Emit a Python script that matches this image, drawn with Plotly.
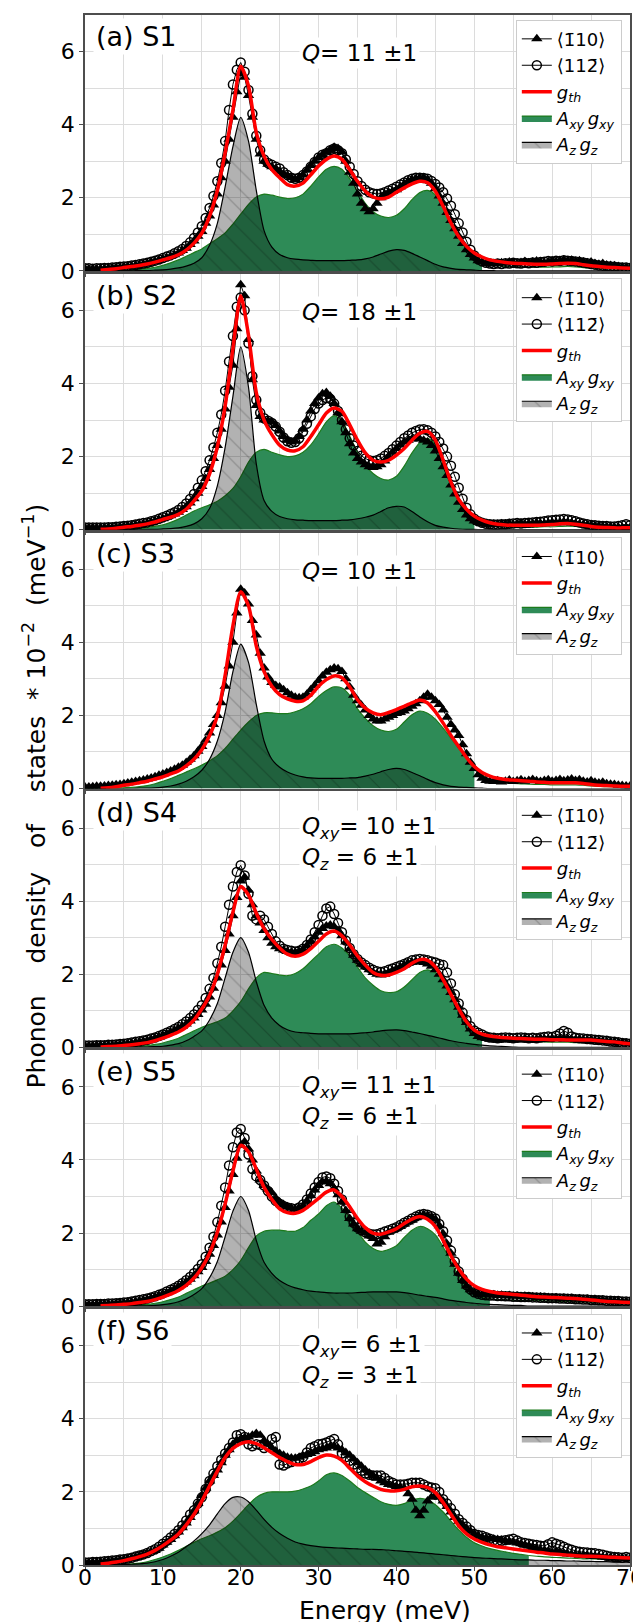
import plotly.graph_objects as go
from plotly.subplots import make_subplots

# ---------------- sampling grids (meV) ----------------
E_CURVE = list(range(0, 71))             # model curves, 1 meV
E_DATA = [k * 0.5 for k in range(141)]   # measured points, 0.5 meV

X_TICKS = [0, 10, 20, 30, 40, 50, 60, 70]
X_MINOR = [5, 15, 25, 35, 45, 55, 65]
Y_TICKS = [0, 2, 4, 6]
Y_MINOR = [1, 3, 5]

PANEL_LABELS = ["(a) S1", "(b) S2", "(c) S3", "(d) S4", "(e) S5", "(f) S6"]
Q_TEXT = [
    ["<i>Q</i>= 11 ±1"],
    ["<i>Q</i>= 18 ±1"],
    ["<i>Q</i>= 10 ±1"],
    ["<i>Q</i><sub><i>xy</i></sub>= 10 ±1", "<i>Q</i><sub><i>z</i></sub> = 6 ±1"],
    ["<i>Q</i><sub><i>xy</i></sub>= 11 ±1", "<i>Q</i><sub><i>z</i></sub> = 6 ±1"],
    ["<i>Q</i><sub><i>xy</i></sub>= 6 ±1", "<i>Q</i><sub><i>z</i></sub> = 3 ±1"],
]
GREEN_FILL_END = [51, 50, 50, 51, 52, 57]   # meV where the green fill stops

NAME_TRI = "⟨1\u030410⟩"
NAME_CIRC = "⟨112\u0304⟩"
NAME_TH = "<i>g</i><sub><i>th</i></sub>"
NAME_XY = "<i>A</i><sub><i>xy</i></sub>\u2009<i>g</i><sub><i>xy</i></sub>"
NAME_Z = "<i>A</i><sub><i>z</i></sub>\u2009<i>g</i><sub><i>z</i></sub>"

# ---------------- panel (a) S1 ----------------
RED_A = [None, None, 0.02, 0.04, 0.06, 0.09, 0.12, 0.15, 0.19, 0.24,
         0.30, 0.36, 0.44, 0.57, 0.76, 1.03, 1.50, 2.20, 3.23, 4.40,
         5.60, 5.06, 3.78, 3.14, 2.77, 2.55, 2.36, 2.32, 2.40, 2.63,
         2.87, 3.05, 3.14, 3.05, 2.77, 2.45, 2.18, 2.02, 1.97, 2.02,
         2.15, 2.27, 2.38, 2.45, 2.41, 2.18, 1.77, 1.31, 0.94, 0.67,
         0.49, 0.38, 0.30, 0.26, 0.23, 0.21, 0.20, 0.19, 0.18, 0.18,
         0.19, 0.20, 0.21, 0.20, 0.17, 0.14, 0.12, 0.10, 0.09, 0.08,
         0.07]
GREEN_A = [0.00, 0.00, 0.00, 0.01, 0.01, 0.02, 0.03, 0.05, 0.07, 0.10,
           0.15, 0.22, 0.30, 0.40, 0.50, 0.60, 0.74, 0.88, 1.04, 1.28,
           1.55, 1.82, 2.02, 2.10, 2.07, 2.02, 1.98, 2.00, 2.10, 2.32,
           2.57, 2.78, 2.86, 2.78, 2.52, 2.18, 1.85, 1.62, 1.50, 1.46,
           1.52, 1.70, 1.95, 2.14, 2.20, 2.08, 1.74, 1.30, 0.93, 0.64,
           0.42, 0.28, 0.20, 0.15, 0.12, 0.11, 0.10, 0.10, 0.10, 0.10,
           0.11, 0.11, 0.12, 0.11, 0.09, 0.08, 0.07, 0.06, 0.05, 0.05,
           0.04]
GRAY_A = [0.00, 0.00, 0.00, 0.00, 0.00, 0.00, 0.00, 0.01, 0.01, 0.02,
          0.03, 0.05, 0.08, 0.13, 0.21, 0.36, 0.70, 1.30, 2.30, 3.40,
          4.20, 3.55, 2.20, 1.10, 0.65, 0.45, 0.36, 0.32, 0.30, 0.29,
          0.28, 0.28, 0.28, 0.28, 0.29, 0.30, 0.33, 0.38, 0.46, 0.54,
          0.58, 0.56, 0.48, 0.38, 0.28, 0.18, 0.11, 0.07, 0.04, 0.03,
          0.02, 0.01, 0.01, 0.00, 0.00, 0.00, 0.00, 0.00, 0.00, 0.00,
          0.00, 0.00, 0.00, 0.00, 0.00, 0.00, 0.00, 0.00, 0.00, 0.00,
          0.00]
TRI_A = [0.06, 0.05, 0.06, 0.05, 0.06, 0.06, 0.07, 0.08, 0.09, 0.09,
         0.11, 0.12, 0.13, 0.15, 0.17, 0.19, 0.21, 0.24, 0.26, 0.29,
         0.33, 0.36, 0.40, 0.44, 0.49, 0.56, 0.62, 0.72, 0.82, 0.95,
         1.08, 1.30, 1.50, 1.80, 2.10, 2.55, 3.00, 3.60, 4.20, 4.90,
         5.40, 5.30, 4.80, 4.20, 3.60, 3.20, 3.00, 2.92, 2.85, 2.80,
         2.72, 2.65, 2.60, 2.55, 2.50, 2.55, 2.62, 2.75, 2.88, 3.00,
         3.10, 3.18, 3.25, 3.32, 3.38, 3.35, 3.25, 3.00, 2.70, 2.40,
         2.10, 1.85, 1.70, 1.62, 1.70, 1.85, 2.00, 2.10, 2.15, 2.18,
         2.22, 2.30, 2.38, 2.45, 2.50, 2.52, 2.55, 2.55, 2.50, 2.40,
         2.25, 2.05, 1.85, 1.60, 1.38, 1.15, 0.95, 0.75, 0.58, 0.45,
         0.35, 0.28, 0.24, 0.21, 0.20, 0.19, 0.20, 0.22, 0.21, 0.24,
         0.22, 0.20, 0.23, 0.26, 0.22, 0.24, 0.27, 0.25, 0.22, 0.25,
         0.28, 0.26, 0.28, 0.30, 0.27, 0.29, 0.26, 0.28, 0.24, 0.22,
         0.24, 0.20, 0.18, 0.20, 0.16, 0.15, 0.14, 0.12, 0.10, 0.09,
         0.08]
CIRC_A = [0.07, 0.07, 0.06, 0.07, 0.07, 0.08, 0.08, 0.09, 0.10, 0.11,
          0.12, 0.13, 0.15, 0.16, 0.18, 0.20, 0.22, 0.25, 0.28, 0.31,
          0.35, 0.39, 0.43, 0.48, 0.54, 0.60, 0.68, 0.78, 0.90, 1.05,
          1.22, 1.45, 1.72, 2.05, 2.45, 2.95, 3.55, 4.40, 5.10, 5.50,
          5.70, 5.45, 4.95, 4.30, 3.70, 3.30, 3.05, 2.95, 2.90, 2.85,
          2.80, 2.70, 2.62, 2.55, 2.52, 2.55, 2.62, 2.72, 2.85, 2.98,
          3.10, 3.18, 3.22, 3.30, 3.35, 3.30, 3.22, 3.05, 2.85, 2.65,
          2.45, 2.32, 2.22, 2.15, 2.12, 2.10, 2.12, 2.15, 2.20, 2.25,
          2.30, 2.36, 2.42, 2.48, 2.52, 2.55, 2.55, 2.54, 2.52, 2.46,
          2.38, 2.28, 2.15, 1.98, 1.78, 1.55, 1.30, 1.05, 0.80, 0.58,
          0.42, 0.32, 0.26, 0.22, 0.20, 0.19, 0.20, 0.19, 0.21, 0.20,
          0.22, 0.21, 0.20, 0.22, 0.21, 0.23, 0.22, 0.24, 0.25, 0.27,
          0.26, 0.28, 0.27, 0.29, 0.28, 0.27, 0.26, 0.24, 0.23, 0.21,
          0.19, 0.17, 0.15, 0.14, 0.13, 0.12, 0.11, 0.10, 0.09, 0.09,
          0.08]

# ---------------- panel (b) S2 ----------------
RED_B = [None, None, 0.01, 0.02, 0.04, 0.07, 0.09, 0.12, 0.16, 0.21,
         0.28, 0.34, 0.42, 0.56, 0.79, 1.06, 1.53, 2.27, 3.38, 4.95,
         6.40, 5.32, 3.75, 3.00, 2.60, 2.31, 2.18, 2.16, 2.27, 2.55,
         2.87, 3.19, 3.33, 3.24, 2.87, 2.45, 2.10, 1.90, 1.85, 1.90,
         2.04, 2.22, 2.45, 2.64, 2.69, 2.45, 1.90, 1.30, 0.83, 0.56,
         0.37, 0.26, 0.19, 0.15, 0.13, 0.12, 0.12, 0.12, 0.12, 0.13,
         0.14, 0.16, 0.17, 0.15, 0.12, 0.09, 0.07, 0.06, 0.05, 0.05,
         0.05]
GREEN_B = [0.00, 0.00, 0.00, 0.01, 0.01, 0.02, 0.03, 0.04, 0.06, 0.09,
           0.13, 0.20, 0.29, 0.40, 0.51, 0.60, 0.68, 0.78, 0.93, 1.13,
           1.45, 1.85, 2.12, 2.20, 2.12, 2.05, 2.00, 2.02, 2.12, 2.32,
           2.62, 2.95, 3.12, 2.98, 2.56, 2.12, 1.76, 1.54, 1.40, 1.36,
           1.46, 1.74, 2.10, 2.38, 2.50, 2.34, 1.84, 1.25, 0.80, 0.50,
           0.30, 0.18, 0.12, 0.09, 0.08, 0.07, 0.07, 0.07, 0.07, 0.08,
           0.08, 0.09, 0.10, 0.09, 0.07, 0.06, 0.05, 0.04, 0.04, 0.03,
           0.03]
GRAY_B = [0.00, 0.00, 0.00, 0.00, 0.00, 0.00, 0.00, 0.00, 0.01, 0.01,
          0.02, 0.03, 0.05, 0.09, 0.16, 0.30, 0.58, 1.20, 2.25, 3.65,
          5.00, 3.90, 1.80, 0.80, 0.50, 0.36, 0.30, 0.27, 0.26, 0.25,
          0.25, 0.25, 0.25, 0.26, 0.27, 0.30, 0.34, 0.40, 0.50, 0.60,
          0.64, 0.62, 0.50, 0.35, 0.22, 0.12, 0.07, 0.04, 0.02, 0.01,
          0.01, 0.00, 0.00, 0.00, 0.00, 0.00, 0.00, 0.00, 0.00, 0.00,
          0.00, 0.00, 0.00, 0.00, 0.00, 0.00, 0.00, 0.00, 0.00, 0.00,
          0.00]
TRI_B = [0.05, 0.05, 0.05, 0.05, 0.05, 0.05, 0.06, 0.06, 0.07, 0.08,
         0.09, 0.10, 0.11, 0.13, 0.14, 0.16, 0.18, 0.21, 0.24, 0.27,
         0.30, 0.34, 0.38, 0.43, 0.48, 0.55, 0.63, 0.73, 0.85, 1.00,
         1.18, 1.40, 1.65, 1.95, 2.30, 2.75, 3.30, 3.90, 4.50, 5.50,
         6.70, 6.40, 5.20, 4.10, 3.40, 3.10, 3.00, 2.98, 2.95, 2.85,
         2.70, 2.55, 2.45, 2.40, 2.42, 2.55, 2.75, 3.00, 3.25, 3.45,
         3.60, 3.72, 3.75, 3.65, 3.45, 3.20, 2.95, 2.65, 2.35, 2.10,
         1.95, 1.85, 1.78, 1.72, 1.70, 1.72, 1.78, 1.88, 2.00, 2.12,
         2.22, 2.32, 2.40, 2.45, 2.48, 2.50, 2.48, 2.45, 2.40, 2.30,
         2.15, 1.95, 1.72, 1.48, 1.22, 0.98, 0.75, 0.55, 0.40, 0.30,
         0.24, 0.20, 0.17, 0.15, 0.14, 0.15, 0.14, 0.16, 0.15, 0.17,
         0.14, 0.16, 0.18, 0.15, 0.17, 0.16, 0.19, 0.17, 0.16, 0.18,
         0.20, 0.18, 0.19, 0.21, 0.19, 0.18, 0.17, 0.15, 0.14, 0.13,
         0.12, 0.11, 0.10, 0.09, 0.08, 0.08, 0.07, 0.07, 0.06, 0.06,
         0.06]
CIRC_B = [0.06, 0.06, 0.06, 0.06, 0.06, 0.06, 0.07, 0.07, 0.08, 0.09,
          0.10, 0.11, 0.12, 0.14, 0.16, 0.18, 0.20, 0.23, 0.26, 0.30,
          0.34, 0.38, 0.43, 0.48, 0.54, 0.62, 0.72, 0.84, 0.98, 1.15,
          1.35, 1.60, 1.90, 2.25, 2.65, 3.15, 3.80, 4.60, 5.30, 6.10,
          6.35, 6.00, 5.10, 4.20, 3.55, 3.20, 3.05, 2.98, 2.92, 2.82,
          2.68, 2.52, 2.42, 2.38, 2.40, 2.50, 2.68, 2.90, 3.10, 3.30,
          3.45, 3.55, 3.60, 3.58, 3.45, 3.25, 3.00, 2.75, 2.50, 2.30,
          2.15, 2.02, 1.95, 1.90, 1.88, 1.90, 1.95, 2.02, 2.10, 2.20,
          2.30, 2.40, 2.50, 2.58, 2.65, 2.70, 2.74, 2.75, 2.72, 2.65,
          2.55, 2.40, 2.22, 2.00, 1.75, 1.45, 1.15, 0.85, 0.60, 0.42,
          0.30, 0.23, 0.19, 0.16, 0.15, 0.14, 0.14, 0.15, 0.15, 0.16,
          0.17, 0.18, 0.17, 0.18, 0.19, 0.20, 0.21, 0.22, 0.23, 0.25,
          0.26, 0.27, 0.28, 0.29, 0.28, 0.26, 0.23, 0.20, 0.17, 0.15,
          0.13, 0.12, 0.11, 0.10, 0.10, 0.09, 0.09, 0.10, 0.12, 0.15,
          0.12]

# ---------------- panel (c) S3 ----------------
RED_C = [None, None, 0.01, 0.02, 0.05, 0.09, 0.12, 0.16, 0.20, 0.26,
         0.32, 0.40, 0.48, 0.62, 0.80, 1.06, 1.45, 2.00, 3.10, 4.45,
         5.38, 5.00, 3.90, 3.20, 2.80, 2.57, 2.45, 2.39, 2.40, 2.55,
         2.80, 2.98, 3.08, 3.03, 2.78, 2.43, 2.20, 2.07, 2.02, 2.08,
         2.16, 2.25, 2.34, 2.42, 2.34, 2.10, 1.79, 1.45, 1.15, 0.85,
         0.60, 0.44, 0.34, 0.28, 0.25, 0.23, 0.21, 0.20, 0.18, 0.17,
         0.16, 0.16, 0.16, 0.16, 0.14, 0.11, 0.09, 0.08, 0.07, 0.06,
         0.06]
GREEN_C = [0.00, 0.00, 0.00, 0.00, 0.01, 0.02, 0.03, 0.05, 0.08, 0.13,
           0.20, 0.27, 0.36, 0.45, 0.54, 0.64, 0.76, 0.90, 1.10, 1.35,
           1.60, 1.82, 2.00, 2.07, 2.07, 2.05, 2.05, 2.10, 2.18, 2.32,
           2.52, 2.68, 2.78, 2.75, 2.55, 2.18, 1.92, 1.72, 1.60, 1.56,
           1.62, 1.82, 2.02, 2.12, 2.06, 1.90, 1.65, 1.38, 1.10, 0.82,
           0.55, 0.36, 0.25, 0.19, 0.16, 0.14, 0.13, 0.12, 0.11, 0.11,
           0.10, 0.10, 0.10, 0.10, 0.09, 0.07, 0.06, 0.05, 0.05, 0.04,
           0.04]
GRAY_C = [0.00, 0.00, 0.00, 0.00, 0.00, 0.00, 0.00, 0.01, 0.01, 0.02,
          0.04, 0.07, 0.12, 0.20, 0.32, 0.50, 0.80, 1.30, 2.10, 3.20,
          3.95, 3.45, 2.30, 1.30, 0.80, 0.58, 0.45, 0.37, 0.32, 0.29,
          0.28, 0.28, 0.28, 0.28, 0.29, 0.30, 0.34, 0.39, 0.46, 0.52,
          0.55, 0.52, 0.44, 0.35, 0.25, 0.16, 0.10, 0.06, 0.04, 0.03,
          0.02, 0.01, 0.00, 0.00, 0.00, 0.00, 0.00, 0.00, 0.00, 0.00,
          0.00, 0.00, 0.00, 0.00, 0.00, 0.00, 0.00, 0.00, 0.00, 0.00,
          0.00]
TRI_C = [0.04, 0.04, 0.05, 0.06, 0.06, 0.07, 0.08, 0.09, 0.10, 0.11,
         0.13, 0.15, 0.17, 0.19, 0.21, 0.23, 0.26, 0.29, 0.32, 0.36,
         0.40, 0.44, 0.48, 0.53, 0.58, 0.64, 0.71, 0.80, 0.90, 1.02,
         1.15, 1.32, 1.52, 1.75, 2.00, 2.35, 2.80, 3.35, 4.00, 4.80,
         5.45, 5.35, 5.05, 4.60, 4.20, 3.70, 3.30, 3.05, 2.90, 2.82,
         2.78, 2.70, 2.62, 2.55, 2.50, 2.48, 2.50, 2.58, 2.70, 2.82,
         2.95, 3.08, 3.18, 3.25, 3.30, 3.28, 3.20, 3.00, 2.78, 2.55,
         2.40, 2.28, 2.15, 2.00, 1.90, 1.85, 1.85, 1.90, 1.95, 2.00,
         2.05, 2.08, 2.12, 2.18, 2.25, 2.32, 2.40, 2.50, 2.58, 2.50,
         2.40, 2.30, 2.15, 1.95, 1.75, 1.60, 1.45, 1.20, 0.95, 0.72,
         0.55, 0.38, 0.28, 0.22, 0.20, 0.19, 0.21, 0.18, 0.20, 0.23,
         0.19, 0.21, 0.24, 0.20, 0.22, 0.25, 0.21, 0.19, 0.22, 0.24,
         0.20, 0.22, 0.25, 0.21, 0.23, 0.26, 0.22, 0.24, 0.20, 0.18,
         0.21, 0.17, 0.15, 0.17, 0.13, 0.12, 0.11, 0.09, 0.08, 0.07,
         0.07]

# ---------------- panel (d) S4 ----------------
RED_D = [None, None, 0.01, 0.02, 0.03, 0.05, 0.07, 0.10, 0.13, 0.18,
         0.25, 0.33, 0.42, 0.55, 0.75, 1.05, 1.42, 2.00, 2.80, 3.70,
         4.40, 4.17, 3.67, 3.25, 2.95, 2.72, 2.55, 2.49, 2.55, 2.70,
         2.90, 3.10, 3.18, 3.05, 2.80, 2.50, 2.25, 2.05, 1.97, 1.98,
         2.05, 2.15, 2.30, 2.40, 2.38, 2.20, 1.85, 1.45, 1.05, 0.70,
         0.47, 0.36, 0.31, 0.28, 0.26, 0.25, 0.24, 0.23, 0.22, 0.22,
         0.21, 0.21, 0.20, 0.20, 0.20, 0.20, 0.18, 0.16, 0.15, 0.12,
         0.10]
GREEN_D = [0.00, 0.00, 0.00, 0.01, 0.01, 0.02, 0.03, 0.04, 0.05, 0.08,
           0.12, 0.18, 0.25, 0.35, 0.45, 0.55, 0.63, 0.70, 0.80, 1.00,
           1.25, 1.60, 1.90, 2.05, 2.02, 1.98, 1.96, 2.02, 2.15, 2.35,
           2.55, 2.75, 2.82, 2.72, 2.50, 2.20, 1.90, 1.70, 1.55, 1.50,
           1.52, 1.65, 1.85, 2.05, 2.12, 2.05, 1.75, 1.40, 1.00, 0.65,
           0.40, 0.26, 0.19, 0.17, 0.16, 0.16, 0.16, 0.15, 0.15, 0.15,
           0.14, 0.14, 0.14, 0.13, 0.13, 0.13, 0.12, 0.11, 0.10, 0.08,
           0.07]
GRAY_D = [0.00, 0.00, 0.00, 0.00, 0.00, 0.00, 0.00, 0.01, 0.01, 0.02,
          0.03, 0.06, 0.10, 0.18, 0.30, 0.45, 0.75, 1.20, 1.90, 2.60,
          3.00, 2.60, 1.80, 1.15, 0.80, 0.60, 0.48, 0.42, 0.40, 0.38,
          0.37, 0.37, 0.37, 0.37, 0.37, 0.38, 0.40, 0.42, 0.45, 0.47,
          0.48, 0.46, 0.42, 0.38, 0.33, 0.28, 0.23, 0.18, 0.14, 0.11,
          0.08, 0.06, 0.04, 0.03, 0.02, 0.01, 0.00, 0.00, 0.00, 0.00,
          0.00, 0.00, 0.00, 0.00, 0.00, 0.00, 0.00, 0.00, 0.00, 0.00,
          0.00]
TRI_D = [0.04, 0.04, 0.04, 0.05, 0.05, 0.05, 0.06, 0.06, 0.07, 0.08,
         0.09, 0.10, 0.11, 0.13, 0.15, 0.17, 0.19, 0.22, 0.25, 0.29,
         0.33, 0.37, 0.42, 0.47, 0.52, 0.58, 0.64, 0.72, 0.80, 0.90,
         1.02, 1.18, 1.38, 1.62, 1.90, 2.25, 2.65, 3.10, 3.60, 4.10,
         4.55, 4.65, 4.30, 3.90, 3.60, 3.40, 3.20, 3.00, 2.85, 2.75,
         2.70, 2.66, 2.62, 2.60, 2.60, 2.62, 2.68, 2.78, 2.90, 3.02,
         3.15, 3.25, 3.32, 3.35, 3.30, 3.20, 3.05, 2.88, 2.70, 2.52,
         2.38, 2.28, 2.20, 2.12, 2.05, 2.00, 1.98, 2.00, 2.05, 2.10,
         2.15, 2.20, 2.25, 2.30, 2.33, 2.35, 2.35, 2.32, 2.28, 2.22,
         2.12, 2.00, 1.85, 1.68, 1.50, 1.30, 1.10, 0.88, 0.68, 0.50,
         0.38, 0.30, 0.26, 0.24, 0.22, 0.23, 0.21, 0.22, 0.24, 0.22,
         0.21, 0.23, 0.22, 0.24, 0.22, 0.21, 0.23, 0.25, 0.23, 0.22,
         0.24, 0.23, 0.25, 0.22, 0.24, 0.22, 0.21, 0.23, 0.21, 0.20,
         0.21, 0.19, 0.18, 0.17, 0.16, 0.15, 0.14, 0.13, 0.12, 0.11,
         0.10]
CIRC_D = [0.05, 0.05, 0.05, 0.06, 0.06, 0.06, 0.07, 0.07, 0.08, 0.09,
          0.10, 0.11, 0.13, 0.15, 0.17, 0.19, 0.21, 0.24, 0.27, 0.31,
          0.35, 0.40, 0.45, 0.50, 0.56, 0.63, 0.71, 0.80, 0.90, 1.02,
          1.15, 1.35, 1.60, 1.90, 2.30, 2.75, 3.30, 3.90, 4.40, 4.80,
          4.98, 4.70, 4.20, 3.60, 3.50, 3.60, 3.50, 3.30, 3.10, 2.90,
          2.78, 2.70, 2.66, 2.64, 2.62, 2.64, 2.70, 2.80, 2.95, 3.15,
          3.35, 3.60, 3.80, 3.85, 3.65, 3.40, 3.15, 2.92, 2.72, 2.55,
          2.42, 2.32, 2.25, 2.18, 2.12, 2.08, 2.06, 2.08, 2.12, 2.16,
          2.20, 2.24, 2.28, 2.33, 2.38, 2.40, 2.42, 2.40, 2.38, 2.35,
          2.32, 2.28, 2.25, 2.05, 1.75, 1.45, 1.20, 0.95, 0.75, 0.58,
          0.46, 0.40, 0.35, 0.30, 0.27, 0.26, 0.25, 0.26, 0.27, 0.26,
          0.25, 0.26, 0.27, 0.26, 0.25, 0.26, 0.25, 0.27, 0.28, 0.30,
          0.28, 0.32, 0.38, 0.45, 0.40, 0.30, 0.26, 0.25, 0.24, 0.23,
          0.22, 0.21, 0.20, 0.19, 0.18, 0.16, 0.15, 0.14, 0.12, 0.11,
          0.10]

# ---------------- panel (e) S5 ----------------
RED_E = [None, None, 0.01, 0.02, 0.03, 0.05, 0.07, 0.10, 0.13, 0.18,
         0.25, 0.33, 0.43, 0.57, 0.77, 1.05, 1.45, 2.02, 2.80, 3.70,
         4.40, 4.22, 3.75, 3.25, 2.92, 2.66, 2.56, 2.54, 2.62, 2.78,
         2.95, 3.12, 3.18, 3.00, 2.72, 2.40, 2.15, 2.00, 1.97, 2.03,
         2.12, 2.26, 2.38, 2.45, 2.38, 2.18, 1.80, 1.38, 1.02, 0.74,
         0.56, 0.46, 0.40, 0.36, 0.34, 0.32, 0.30, 0.28, 0.26, 0.25,
         0.24, 0.23, 0.22, 0.21, 0.19, 0.17, 0.15, 0.13, 0.12, 0.11,
         0.10]
GREEN_E = [0.00, 0.00, 0.00, 0.01, 0.01, 0.02, 0.03, 0.04, 0.05, 0.08,
           0.12, 0.18, 0.25, 0.35, 0.45, 0.55, 0.63, 0.72, 0.82, 1.00,
           1.25, 1.60, 1.92, 2.05, 2.08, 2.08, 2.05, 2.05, 2.15, 2.35,
           2.52, 2.75, 2.85, 2.68, 2.40, 2.05, 1.75, 1.58, 1.50, 1.55,
           1.65, 1.88, 2.08, 2.18, 2.12, 1.95, 1.62, 1.22, 0.82, 0.52,
           0.34, 0.24, 0.20, 0.18, 0.17, 0.16, 0.16, 0.15, 0.15, 0.14,
           0.14, 0.13, 0.13, 0.12, 0.12, 0.11, 0.10, 0.09, 0.08, 0.07,
           0.06]
GRAY_E = [0.00, 0.00, 0.00, 0.00, 0.00, 0.00, 0.00, 0.01, 0.01, 0.02,
          0.04, 0.07, 0.12, 0.20, 0.32, 0.48, 0.78, 1.22, 1.90, 2.60,
          3.00, 2.62, 1.80, 1.20, 0.90, 0.70, 0.58, 0.50, 0.45, 0.41,
          0.39, 0.37, 0.36, 0.36, 0.36, 0.37, 0.38, 0.39, 0.39, 0.39,
          0.39, 0.37, 0.34, 0.30, 0.27, 0.24, 0.20, 0.16, 0.13, 0.10,
          0.08, 0.06, 0.05, 0.04, 0.03, 0.02, 0.02, 0.00, 0.00, 0.00,
          0.00, 0.00, 0.00, 0.00, 0.00, 0.00, 0.00, 0.00, 0.00, 0.00,
          0.00]
TRI_E = [0.04, 0.04, 0.04, 0.05, 0.05, 0.05, 0.06, 0.06, 0.07, 0.08,
         0.09, 0.10, 0.11, 0.13, 0.15, 0.17, 0.19, 0.22, 0.25, 0.29,
         0.33, 0.37, 0.42, 0.47, 0.53, 0.59, 0.66, 0.74, 0.83, 0.94,
         1.06, 1.22, 1.42, 1.66, 1.95, 2.30, 2.70, 3.15, 3.60, 4.05,
         4.40, 4.50, 4.30, 4.00, 3.70, 3.45, 3.30, 3.20, 3.10, 2.95,
         2.85, 2.78, 2.72, 2.68, 2.65, 2.68, 2.75, 2.88, 3.02, 3.18,
         3.30, 3.40, 3.42, 3.35, 3.22, 3.05, 2.85, 2.62, 2.40, 2.25,
         2.12, 2.05, 2.00, 1.92, 1.85, 1.70, 1.75, 1.90, 2.02, 2.08,
         2.12, 2.18, 2.24, 2.30, 2.35, 2.42, 2.48, 2.50, 2.48, 2.44,
         2.38, 2.20, 1.98, 1.70, 1.45, 1.15, 0.90, 0.70, 0.55, 0.45,
         0.38, 0.34, 0.32, 0.31, 0.30, 0.31, 0.29, 0.30, 0.28, 0.29,
         0.27, 0.28, 0.26, 0.27, 0.25, 0.26, 0.24, 0.25, 0.23, 0.24,
         0.22, 0.23, 0.21, 0.22, 0.20, 0.21, 0.19, 0.20, 0.18, 0.19,
         0.17, 0.18, 0.16, 0.16, 0.15, 0.14, 0.14, 0.13, 0.12, 0.12,
         0.11]
CIRC_E = [0.05, 0.05, 0.05, 0.06, 0.06, 0.06, 0.07, 0.07, 0.08, 0.09,
          0.10, 0.11, 0.13, 0.15, 0.17, 0.19, 0.21, 0.24, 0.27, 0.31,
          0.35, 0.40, 0.45, 0.50, 0.56, 0.63, 0.71, 0.80, 0.90, 1.02,
          1.15, 1.35, 1.60, 1.90, 2.30, 2.75, 3.25, 3.85, 4.35, 4.75,
          4.85, 4.60, 4.15, 3.75, 3.55, 3.45, 3.30, 3.15, 3.00, 2.88,
          2.80, 2.74, 2.70, 2.68, 2.66, 2.70, 2.78, 2.92, 3.08, 3.25,
          3.40, 3.52, 3.55, 3.50, 3.35, 3.15, 2.92, 2.68, 2.45, 2.28,
          2.15, 2.08, 2.02, 1.98, 1.96, 1.97, 2.00, 2.04, 2.08, 2.12,
          2.16, 2.22, 2.28, 2.34, 2.40, 2.45, 2.50, 2.52, 2.50, 2.46,
          2.40, 2.25, 2.05, 1.80, 1.52, 1.22, 0.95, 0.75, 0.58, 0.46,
          0.38, 0.34, 0.31, 0.30, 0.29, 0.29, 0.28, 0.28, 0.27, 0.27,
          0.26, 0.26, 0.25, 0.25, 0.25, 0.24, 0.24, 0.23, 0.23, 0.22,
          0.22, 0.22, 0.21, 0.21, 0.20, 0.20, 0.19, 0.19, 0.18, 0.18,
          0.17, 0.17, 0.16, 0.16, 0.15, 0.15, 0.14, 0.14, 0.13, 0.13,
          0.12]

# ---------------- panel (f) S6 ----------------
RED_F = [None, None, 0.03, 0.05, 0.08, 0.12, 0.17, 0.23, 0.30, 0.40,
         0.53, 0.68, 0.85, 1.10, 1.39, 1.75, 2.16, 2.57, 2.94, 3.19,
         3.32, 3.37, 3.32, 3.21, 3.07, 2.94, 2.83, 2.75, 2.75, 2.83,
         2.94, 3.01, 2.98, 2.86, 2.65, 2.44, 2.28, 2.16, 2.07, 2.03,
         2.03, 2.07, 2.14, 2.16, 2.12, 1.98, 1.71, 1.39, 1.07, 0.85,
         0.71, 0.62, 0.55, 0.50, 0.47, 0.44, 0.41, 0.38, 0.35, 0.33,
         0.30, 0.29, 0.27, 0.25, 0.24, 0.24, 0.23, 0.22, 0.21, 0.20,
         0.19]
GREEN_F = [0.00, 0.00, 0.00, 0.01, 0.01, 0.02, 0.03, 0.05, 0.09, 0.15,
           0.22, 0.30, 0.40, 0.51, 0.62, 0.72, 0.80, 0.90, 1.02, 1.20,
           1.42, 1.65, 1.85, 1.96, 2.00, 2.00, 2.00, 2.02, 2.08, 2.16,
           2.30, 2.47, 2.52, 2.45, 2.30, 2.12, 1.98, 1.85, 1.73, 1.66,
           1.63, 1.68, 1.77, 1.82, 1.78, 1.65, 1.45, 1.20, 0.96, 0.76,
           0.61, 0.52, 0.45, 0.40, 0.36, 0.32, 0.29, 0.26, 0.24, 0.22,
           0.21, 0.20, 0.19, 0.18, 0.17, 0.17, 0.16, 0.16, 0.15, 0.14,
           0.14]
GRAY_F = [0.00, 0.00, 0.00, 0.00, 0.00, 0.01, 0.02, 0.03, 0.05, 0.09,
          0.15, 0.24, 0.35, 0.50, 0.66, 0.86, 1.10, 1.40, 1.68, 1.85,
          1.86, 1.73, 1.50, 1.25, 1.03, 0.86, 0.73, 0.63, 0.57, 0.53,
          0.50, 0.48, 0.47, 0.46, 0.45, 0.44, 0.43, 0.43, 0.42, 0.41,
          0.39, 0.37, 0.36, 0.34, 0.32, 0.30, 0.28, 0.26, 0.24, 0.22,
          0.20, 0.19, 0.18, 0.17, 0.16, 0.15, 0.14, 0.14, 0.13, 0.13,
          0.12, 0.12, 0.11, 0.11, 0.10, 0.10, 0.09, 0.09, 0.08, 0.08,
          0.08]
TRI_F = [0.06, 0.06, 0.07, 0.07, 0.08, 0.09, 0.10, 0.11, 0.12, 0.14,
         0.15, 0.17, 0.19, 0.22, 0.25, 0.28, 0.32, 0.36, 0.40, 0.46,
         0.55, 0.62, 0.70, 0.80, 0.90, 1.02, 1.15, 1.30, 1.48, 1.68,
         1.90, 2.10, 2.30, 2.45, 2.60, 2.80, 3.00, 3.15, 3.30, 3.40,
         3.45, 3.48, 3.50, 3.55, 3.60, 3.55, 3.40, 3.30, 3.20, 3.12,
         3.05, 3.00, 2.95, 2.93, 2.92, 2.95, 2.98, 3.02, 3.05, 3.10,
         3.15, 3.18, 3.20, 3.25, 3.25, 3.20, 3.15, 3.08, 3.00, 2.90,
         2.80, 2.70, 2.60, 2.52, 2.45, 2.38, 2.30, 2.25, 2.20, 2.18,
         2.15, 2.12, 2.10, 1.95, 1.80, 1.50, 1.35, 1.50, 1.75, 1.85,
         1.90, 1.85, 1.75, 1.60, 1.45, 1.30, 1.20, 1.10, 1.00, 0.92,
         0.85, 0.80, 0.75, 0.73, 0.72, 0.71, 0.70, 0.68, 0.66, 0.64,
         0.62, 0.60, 0.58, 0.55, 0.52, 0.48, 0.45, 0.42, 0.40, 0.38,
         0.35, 0.36, 0.35, 0.33, 0.30, 0.29, 0.28, 0.27, 0.26, 0.25,
         0.24, 0.23, 0.23, 0.22, 0.21, 0.21, 0.20, 0.19, 0.19, 0.18,
         0.18]
CIRC_F = [0.07, 0.07, 0.08, 0.08, 0.09, 0.10, 0.11, 0.12, 0.13, 0.15,
          0.16, 0.18, 0.20, 0.23, 0.26, 0.29, 0.33, 0.38, 0.43, 0.50,
          0.58, 0.66, 0.75, 0.85, 0.95, 1.08, 1.22, 1.38, 1.50, 1.68,
          1.85, 2.08, 2.30, 2.50, 2.70, 2.88, 3.05, 3.20, 3.35, 3.55,
          3.58, 3.50, 3.30, 3.25, 3.30, 3.28, 3.20, 3.25, 3.45, 3.50,
          2.75, 2.72, 2.78, 2.82, 2.85, 2.90, 2.95, 3.08, 3.20, 3.25,
          3.30, 3.32, 3.35, 3.40, 3.45, 3.30, 3.05, 2.95, 2.85, 2.75,
          2.65, 2.58, 2.50, 2.47, 2.45, 2.45, 2.45, 2.38, 2.30, 2.25,
          2.20, 2.20, 2.20, 2.22, 2.25, 2.25, 2.25, 2.20, 2.15, 2.12,
          2.10, 2.00, 1.80, 1.68, 1.55, 1.40, 1.25, 1.15, 1.05, 0.95,
          0.85, 0.82, 0.80, 0.76, 0.72, 0.68, 0.65, 0.66, 0.68, 0.70,
          0.72, 0.67, 0.62, 0.60, 0.58, 0.56, 0.55, 0.53, 0.52, 0.57,
          0.62, 0.58, 0.55, 0.50, 0.45, 0.42, 0.38, 0.36, 0.35, 0.34,
          0.33, 0.32, 0.30, 0.28, 0.25, 0.23, 0.22, 0.21, 0.20, 0.22,
          0.20]

PANELS = [
    (RED_A, GREEN_A, GRAY_A, TRI_A, CIRC_A),
    (RED_B, GREEN_B, GRAY_B, TRI_B, CIRC_B),
    (RED_C, GREEN_C, GRAY_C, TRI_C, None),
    (RED_D, GREEN_D, GRAY_D, TRI_D, CIRC_D),
    (RED_E, GREEN_E, GRAY_E, TRI_E, CIRC_E),
    (RED_F, GREEN_F, GRAY_F, TRI_F, CIRC_F),
]

# ---------------- styling ----------------
FONT = "DejaVu Sans"
GRID = "#dcdcdc"
FRAME = "#4d4d4d"
SEAGREEN = "#2e8b57"
EDGE_GREEN = "#1c7a1c"

fig = make_subplots(rows=6, cols=1, shared_xaxes=True, vertical_spacing=0.0019)

for i, (red, green, gray, tri, circ) in enumerate(PANELS):
    r = i + 1
    leg = "legend" if r == 1 else f"legend{r}"
    cut = GREEN_FILL_END[i]
    ci = E_CURVE.index(cut)

    fig.add_trace(go.Scatter(
        x=E_CURVE[:ci + 1], y=green[:ci + 1], mode="lines",
        line=dict(color=EDGE_GREEN, width=1.2, shape="spline", smoothing=0.7),
        fill="tozeroy", fillcolor=SEAGREEN, name=NAME_XY,
        legend=leg, legendrank=4), row=r, col=1)
    fig.add_trace(go.Scatter(
        x=E_CURVE[ci:], y=green[ci:], mode="lines",
        line=dict(color=EDGE_GREEN, width=1.2, shape="spline", smoothing=0.7),
        showlegend=False, hoverinfo="skip"), row=r, col=1)
    fig.add_trace(go.Scatter(
        x=E_CURVE, y=gray, mode="lines",
        line=dict(color="black", width=1.2, shape="spline", smoothing=0.7),
        fill="tozeroy", fillcolor="rgba(0,0,0,0.3)",
        fillpattern=dict(shape="\\", bgcolor="rgba(0,0,0,0.3)",
                         fgcolor="rgba(0,0,0,0.45)", size=14, solidity=0.08,
                         fillmode="overlay"),
        name=NAME_Z, legend=leg, legendrank=5), row=r, col=1)
    fig.add_trace(go.Scatter(
        x=E_DATA, y=tri, mode="lines+markers",
        line=dict(color="black", width=1),
        marker=dict(symbol="triangle-up", size=10, color="black"),
        name=NAME_TRI, legend=leg, legendrank=1), row=r, col=1)
    if circ is not None:
        fig.add_trace(go.Scatter(
            x=E_DATA, y=circ, mode="lines+markers",
            line=dict(color="black", width=1),
            marker=dict(symbol="circle-open", size=9, color="black",
                        line=dict(width=1.5, color="black")),
            name=NAME_CIRC, legend=leg, legendrank=2), row=r, col=1)
    fig.add_trace(go.Scatter(
        x=E_CURVE, y=red, mode="lines",
        line=dict(color="#ff0000", width=3.5, shape="spline", smoothing=0.7),
        name=NAME_TH, legend=leg, legendrank=3), row=r, col=1)

    yname = "yaxis" if r == 1 else f"yaxis{r}"
    dom = fig.layout[yname].domain
    fig.layout[leg] = dict(
        x=0.985, xanchor="right", y=dom[1] - 0.003, yanchor="top",
        bgcolor="white", bordercolor="#cccccc", borderwidth=1,
        font=dict(family=FONT, size=18, color="black"),
        tracegroupgap=0, itemwidth=30)

    xr = "x" if r == 1 else f"x{r}"
    yr = "y" if r == 1 else f"y{r}"
    fig.add_annotation(x=1.0, y=6.42, xref=xr, yref=yr, text=PANEL_LABELS[i],
                       showarrow=False, xanchor="left", yanchor="middle",
                       bgcolor="white", borderpad=2,
                       font=dict(family=FONT, size=27, color="black"))
    q_y = [5.95] if len(Q_TEXT[i]) == 1 else [6.0, 5.15]
    for txt, yy in zip(Q_TEXT[i], q_y):
        fig.add_annotation(x=27.5, y=yy, xref=xr, yref=yr, text=txt,
                           showarrow=False, xanchor="left", yanchor="middle",
                           bgcolor="white", borderpad=2,
                           font=dict(family=FONT, size=23, color="black"))

fig.update_xaxes(
    range=[0, 70], tickvals=X_TICKS, showgrid=True, gridcolor=GRID, gridwidth=1,
    minor=dict(tickvals=X_MINOR, showgrid=True, gridcolor=GRID, gridwidth=1),
    showline=True, linecolor=FRAME, linewidth=1.5, mirror=True,
    ticks="outside", ticklen=4, tickcolor=FRAME, zeroline=False,
    ticklabeloverflow="allow", ticklabelstandoff=-12,
    tickfont=dict(family=FONT, size=22, color="black"))
fig.update_yaxes(
    range=[0, 7], tickvals=Y_TICKS, showgrid=True, gridcolor=GRID, gridwidth=1,
    minor=dict(tickvals=Y_MINOR, showgrid=True, gridcolor=GRID, gridwidth=1),
    showline=True, linecolor=FRAME, linewidth=1.5, mirror=True,
    ticks="outside", ticklen=4, tickcolor=FRAME, zeroline=False,
    tickfont=dict(family=FONT, size=22, color="black"))

NB = "\u00a0"
YLABEL = ("Phonon" + NB * 4 + "density" + NB * 3 + "of" + NB * 4 + "states" + NB * 2
          + "*" + NB + "10<sup>−2</sup>" + NB * 2 + "(meV<sup>−1</sup>)")
fig.add_annotation(x=-0.093, y=0.496, xref="paper", yref="paper", text=YLABEL,
                   textangle=-90, showarrow=False, xanchor="center", yanchor="middle",
                   font=dict(family=FONT, size=25, color="black"))
fig.add_annotation(x=0.55, y=-0.0295, xref="paper", yref="paper", text="Energy (meV)",
                   showarrow=False, xanchor="center", yanchor="middle",
                   font=dict(family=FONT, size=25, color="black"))

fig.update_layout(
    width=641, height=1622,
    margin=dict(l=77, r=13, t=5, b=65),
    plot_bgcolor="white", paper_bgcolor="white",
    font=dict(family=FONT, color="black"),
    hovermode=False,
)

fig.write_html("out.html")
